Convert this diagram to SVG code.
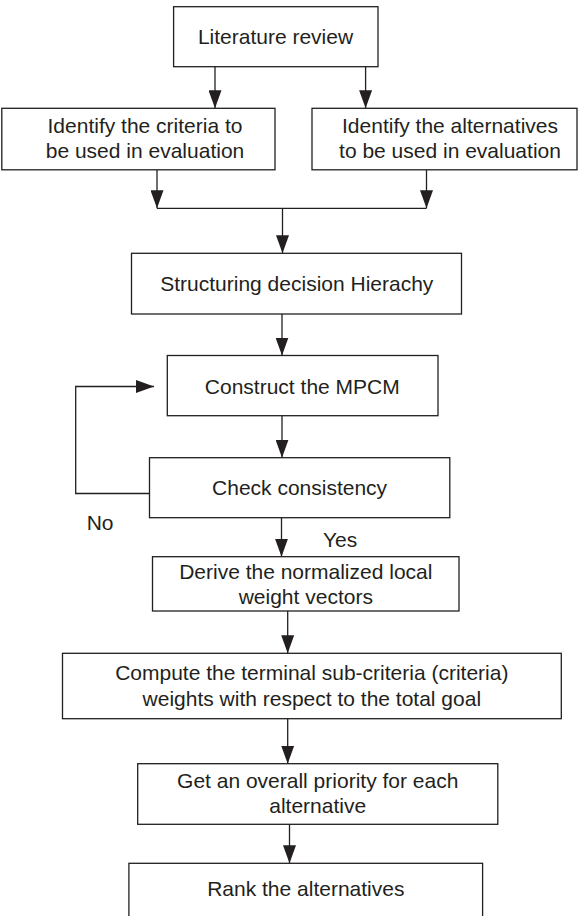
<svg xmlns="http://www.w3.org/2000/svg" width="579" height="916" viewBox="0 0 579 916">
<style>
.box{fill:#fff;stroke:#231f20;stroke-width:1.3}
.ln{fill:none;stroke:#231f20;stroke-width:1.3}
.ar{fill:none;stroke:#231f20;stroke-width:1.3;marker-end:url(#ah)}
text{font-family:"Liberation Sans",Arial,sans-serif;font-size:21px;fill:#231f20}
.c{text-anchor:middle}
</style>
<defs>
<marker id="ah" markerUnits="userSpaceOnUse" markerWidth="19" markerHeight="13" refX="18" refY="6.5" orient="auto">
<path d="M0,0 L18,6.5 L0,13 z" fill="#231f20"/>
</marker>
</defs>
<rect width="579" height="916" fill="#fff"/>
<g id="connectors">
<line class="ar" x1="215" y1="66" x2="215" y2="108.3"/>
<line class="ar" x1="365.6" y1="66" x2="365.6" y2="108.3"/>
<line class="ar" x1="157" y1="169.8" x2="157" y2="208.3"/>
<line class="ar" x1="426.5" y1="169.8" x2="426.5" y2="208.3"/>
<line class="ln" x1="157" y1="208.3" x2="426.5" y2="208.3"/>
<line class="ar" x1="282.5" y1="208.3" x2="282.5" y2="253.3"/>
<line class="ar" x1="282" y1="314" x2="282" y2="355.5"/>
<line class="ar" x1="282" y1="415.7" x2="282" y2="457.7"/>
<polyline class="ar" points="149.5,493.5 75.7,493.5 75.7,386.5 154,386.5"/>
<line class="ar" x1="281.5" y1="517.7" x2="281.5" y2="556.7"/>
<line class="ar" x1="287.7" y1="611" x2="287.7" y2="653.3"/>
<line class="ar" x1="287.7" y1="718.7" x2="287.7" y2="763.7"/>
<line class="ar" x1="289.5" y1="824.3" x2="289.5" y2="863.3"/>
</g>
<g id="n-literature">
<rect class="box" x="173.6" y="6.7" width="204.4" height="60"/>
<text class="c" x="275.5" y="43.5">Literature review</text>
</g>
<g id="n-criteria">
<rect class="box" x="1.8" y="108.3" width="273.2" height="61.5"/>
<text class="c" x="145" y="133.3">Identify the criteria to</text>
<text class="c" x="145" y="158.3">be used in evaluation</text>
</g>
<g id="n-alternatives">
<rect class="box" x="312" y="108.3" width="265" height="61.5"/>
<text class="c" x="450" y="133.3">Identify the alternatives</text>
<text class="c" x="450" y="158.3">to be used in evaluation</text>
</g>
<g id="n-structuring">
<rect class="box" x="131.5" y="253.3" width="330" height="60.7"/>
<text class="c" x="296.8" y="290.5">Structuring decision Hierachy</text>
</g>
<g id="n-construct">
<rect class="box" x="167.3" y="355.5" width="270.7" height="60.2"/>
<text class="c" x="302.3" y="393.5">Construct the MPCM</text>
</g>
<g id="n-check">
<rect class="box" x="149.5" y="457.7" width="300.3" height="60"/>
<text class="c" x="299.6" y="494.5">Check consistency</text>
</g>
<g id="label-no"><text x="86.7" y="530">No</text></g>
<g id="label-yes"><text x="323" y="546.7">Yes</text></g>
<g id="n-derive">
<rect class="box" x="152.5" y="556.7" width="306.5" height="54.3"/>
<text class="c" x="305.8" y="578.5">Derive the normalized local</text>
<text class="c" x="305.8" y="603.5">weight vectors</text>
</g>
<g id="n-compute">
<rect class="box" x="62.5" y="653.3" width="498.8" height="65.4"/>
<text class="c" x="311.8" y="680">Compute the terminal sub-criteria (criteria)</text>
<text class="c" x="311.8" y="706">weights with respect to the total goal</text>
</g>
<g id="n-get">
<rect class="box" x="137.7" y="763.7" width="360.1" height="60.6"/>
<text class="c" x="317.7" y="787.7">Get an overall priority for each</text>
<text class="c" x="317.7" y="812.7">alternative</text>
</g>
<g id="n-rank">
<rect class="box" x="128.9" y="863.3" width="353.7" height="70"/>
<text class="c" x="305.8" y="896">Rank the alternatives</text>
</g>
</svg>
